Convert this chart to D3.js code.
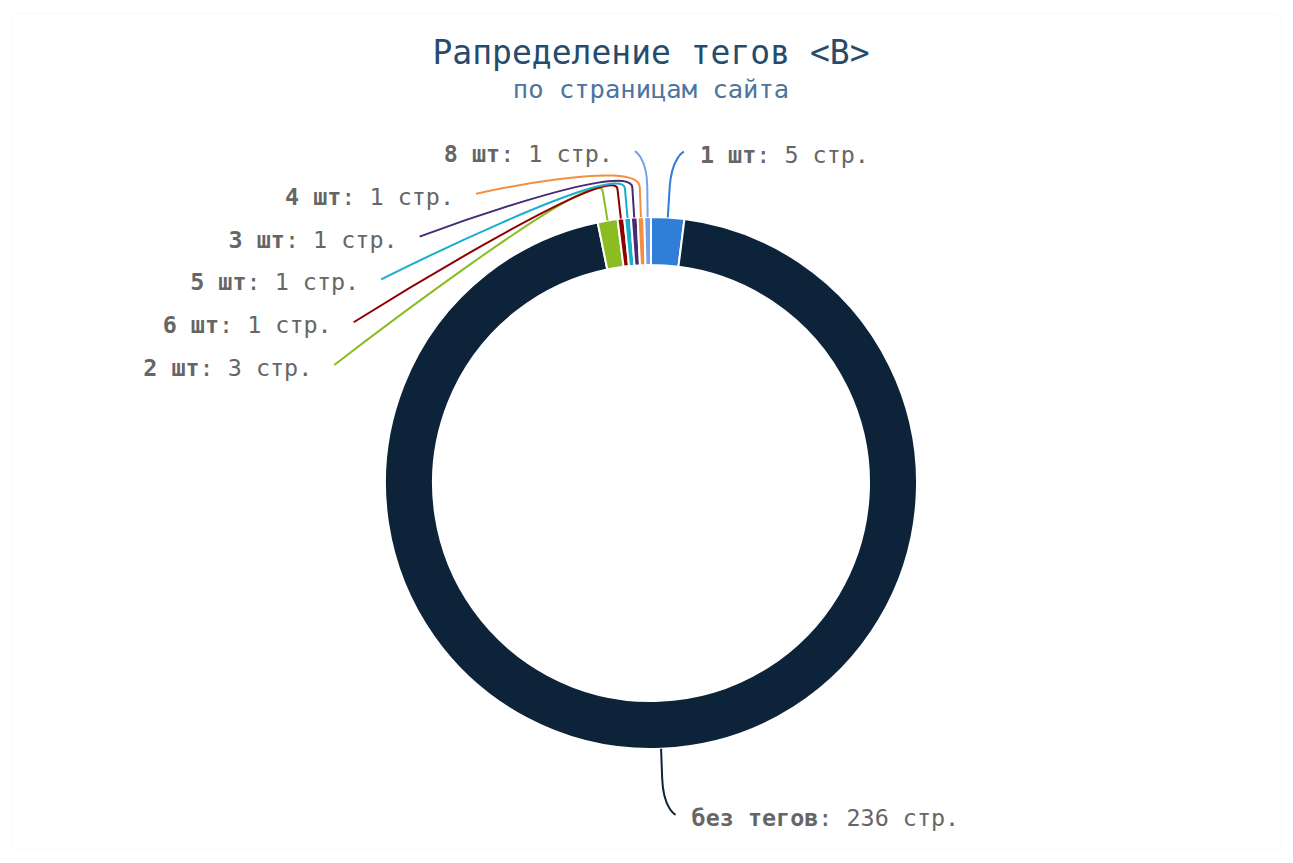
<!DOCTYPE html>
<html>
<head>
<meta charset="utf-8">
<script src="https://cdn.jsdelivr.net/npm/d3@7"></script>
<style>
  html, body { margin: 0; padding: 0; background: #fff; }
  svg { display: block; font-family: "DejaVu Sans Mono", monospace; }
</style>
</head>
<body>
<svg id="chart" width="1293" height="863"></svg>
<script>
// slices in drawing order, clockwise from 12 o'clock
const names = ['1 шт', 'без тегов', '2 шт', '6 шт', '5 шт', '3 шт', '4 шт', '8 шт'];
const pages = [5, 236, 3, 1, 1, 1, 1, 1];
const colors = ['#2f7ed8', '#0d233a', '#8bbc21', '#910000', '#1aadce', '#492970', '#f28f43', '#77a1e5'];
const titleText = 'Рапределение тегов <B>';
const subtitleText = 'по страницам сайта';

const width = 1293, height = 863;
const cx = 651, cy = 483;
const outerR = 266, innerR = 218;
const labelR = 332;     // radius of natural label spots
const slideR = 338;     // radius used once a label has been pushed down
const natShift = 12;    // outward nudge of unshifted labels
const breakOff = 30;    // second connector break outside the pie
const labelStep = 42.8; // min vertical gap between labels

const svg = d3.select('#chart');

svg.append('rect')
	.attr('x', 11.5).attr('y', 13.5)
	.attr('width', width - 23).attr('height', height - 27)
	.attr('rx', 8)
	.attr('fill', '#fff')
	.attr('stroke', '#f8f8f8');

svg.append('text')
	.attr('x', cx).attr('y', 64)
	.attr('text-anchor', 'middle')
	.style('font-size', '33px')
	.style('fill', '#274b6d')
	.text(titleText);

svg.append('text')
	.attr('x', cx).attr('y', 98)
	.attr('text-anchor', 'middle')
	.style('font-size', '25.5px')
	.style('fill', '#4d759e')
	.text(subtitleText);

const data = names.map((name, i) => ({ name, value: pages[i], color: colors[i] }));

const pie = d3.pie().sort(null).value((d) => d.value);
const arcs = pie(data);
const arc = d3.arc().innerRadius(innerR).outerRadius(outerR);

const g = svg.append('g').attr('transform', `translate(${cx},${cy})`);

g.selectAll('.slice')
	.data(arcs)
	.join('path')
	.attr('class', 'slice')
	.attr('d', arc)
	.attr('fill', (d) => d.data.color)
	.attr('stroke', '#fff')
	.attr('stroke-width', 2)
	.attr('stroke-linejoin', 'round');

// label layout: natural spot on a wider circle, then push apart per side
const labels = arcs.map((a) => {
	const ang = (a.startAngle + a.endAngle) / 2;
	const sx = Math.sin(ang), sy = -Math.cos(ang);
	const left = ang > Math.PI;
	return {
		a,
		left,
		edge: [sx * outerR, sy * outerR],
		brk: [sx * (outerR + breakOff), sy * (outerR + breakOff)],
		x: sx * labelR + (left ? -natShift : natShift),
		y: sy * labelR,
		natY: sy * labelR,
	};
});

const getX = (y, left) => {
	const dx = Math.sqrt(Math.max(0, slideR * slideR - y * y));
	return left ? -dx : dx;
};

[true, false].forEach((side) => {
	const list = labels.filter((l) => l.left === side).sort((p, q) => p.natY - q.natY);
	let prev = -Infinity;
	list.forEach((l) => {
		if (l.y < prev + labelStep) {
			l.y = prev + labelStep;
			l.x = getX(l.y, l.left);
		}
		prev = l.y;
	});
});

g.selectAll('.connector')
	.data(labels)
	.join('path')
	.attr('class', 'connector')
	.attr('fill', 'none')
	.attr('stroke', (l) => l.a.data.color)
	.attr('stroke-width', 2)
	.attr('d', (l) => {
		const [bx, by] = l.brk, [ex, ey] = l.edge;
		return `M${l.x},${l.y} C${l.x},${l.y} ${2 * bx - ex},${2 * by - ey} ${bx},${by} L${ex},${ey}`;
	});

const txt = g.selectAll('.label')
	.data(labels)
	.join('text')
	.attr('class', 'label')
	.attr('x', (l) => l.x + (l.left ? -22 : 16))
	.attr('y', (l) => l.y + 11)
	.attr('text-anchor', (l) => (l.left ? 'end' : 'start'))
	.style('font-size', '23.4px')
	.style('fill', '#666666');

txt.append('tspan').style('font-weight', 'bold').text((l) => l.a.data.name);
txt.append('tspan').text((l) => `: ${l.a.data.value} стр.`);
</script>
</body>
</html>
